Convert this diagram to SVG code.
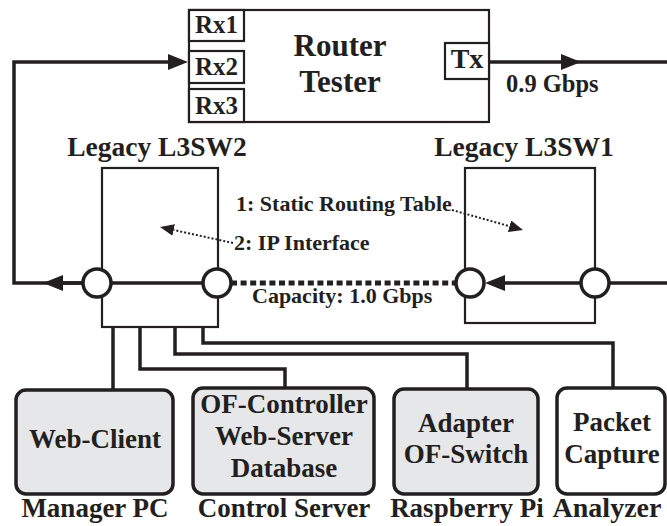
<svg xmlns="http://www.w3.org/2000/svg" width="667" height="526" viewBox="0 0 667 526">
<style>
text{font-family:'Liberation Serif',Tinos,'Times New Roman',Times,'Nimbus Roman','DejaVu Serif',serif;font-weight:700;fill:#231f20}
.box{fill:#fff;stroke:#231f20;stroke-width:2.2}
.gray{fill:#e6e7e8;stroke:#231f20;stroke-width:3.5}
.white{fill:#fff;stroke:#231f20;stroke-width:3.5}
.wire{fill:none;stroke:#231f20;stroke-width:3.5}
.dash{fill:none;stroke:#231f20;stroke-width:5;stroke-dasharray:6 3.6}
.dot{fill:none;stroke:#231f20;stroke-width:2;stroke-dasharray:2 2}
.port{fill:#fff;stroke:#231f20;stroke-width:3.5}
.c{text-anchor:middle}
</style>
<defs>
<marker id="ah" markerUnits="userSpaceOnUse" markerWidth="20" markerHeight="16" refX="0" refY="8" orient="auto">
<path d="M0,0 L20,8 L0,16 z" fill="#231f20"/>
</marker>
<marker id="ahs" markerUnits="userSpaceOnUse" markerWidth="14" markerHeight="12" refX="0" refY="6" orient="auto">
<path d="M0,0 L14,6 L0,12 z" fill="#231f20"/>
</marker>
</defs>

<g id="router-tester">
<rect class="box" x="189" y="10" width="300" height="112"/>
<rect class="box" x="189" y="10" width="55" height="31"/>
<rect class="box" x="189" y="51" width="55" height="32"/>
<rect class="box" x="189" y="89" width="55" height="33"/>
<rect class="box" x="445" y="43" width="44" height="36"/>
<text class="c" x="216.5" y="33" font-size="25">Rx1</text>
<text class="c" x="216.5" y="75" font-size="25">Rx2</text>
<text class="c" x="216.5" y="114" font-size="25">Rx3</text>
<text class="c" x="467" y="68" font-size="28">Tx</text>
<text class="c" x="340" y="56" font-size="31">Router</text>
<text class="c" x="340" y="92" font-size="31">Tester</text>
</g>

<g id="l3sw2">
<text class="c" x="157" y="156" font-size="27.5">Legacy L3SW2</text>
<rect class="box" x="102" y="168" width="116" height="159"/>
</g>

<g id="l3sw1">
<text class="c" x="524" y="156" font-size="27.5">Legacy L3SW1</text>
<rect class="box" x="465" y="168" width="130" height="155"/>
</g>

<g id="connectors">
<line class="wire" x1="489" y1="62" x2="561" y2="62" marker-end="url(#ah)"/>
<line class="wire" x1="575" y1="62" x2="667" y2="62"/>
<path class="wire" d="M83,283 H14 V62 H168" marker-end="url(#ah)"/>
<line class="wire" x1="83" y1="283" x2="63" y2="283" marker-end="url(#ah)"/>
<line class="wire" x1="97" y1="283" x2="217" y2="283"/>
<line class="dash" x1="231" y1="283" x2="456" y2="283"/>
<line class="wire" x1="595" y1="283" x2="667" y2="283"/>
<line class="wire" x1="595" y1="283" x2="505" y2="283" marker-end="url(#ah)"/>
<line class="dot" x1="452" y1="210" x2="509.5" y2="226.2" marker-end="url(#ahs)"/>
<line class="dot" x1="233" y1="243" x2="173.7" y2="230" marker-end="url(#ahs)"/>
<path class="wire" d="M113,327 V390"/>
<path class="wire" d="M140,327 V369 H285 V388"/>
<path class="wire" d="M175,327 V354 H467 V389"/>
<path class="wire" d="M203,327 V343 H613 V388"/>
</g>

<g id="ports">
<circle class="port" cx="97" cy="283" r="14"/>
<circle class="port" cx="217" cy="283" r="14"/>
<circle class="port" cx="470" cy="283" r="14"/>
<circle class="port" cx="595" cy="283" r="14"/>
</g>

<g id="labels">
<text x="506" y="92" font-size="24.5">0.9 Gbps</text>
<text x="236" y="211" font-size="22">1: Static Routing Table</text>
<text x="234" y="250" font-size="22">2: IP Interface</text>
<text x="252" y="303" font-size="22">Capacity: 1.0 Gbps</text>
</g>

<g id="manager-pc">
<rect class="gray" x="16" y="390" width="157" height="104" rx="10"/>
<text class="c" x="95" y="448" font-size="27">Web-Client</text>
<text class="c" x="95" y="517" font-size="27">Manager PC</text>
</g>

<g id="control-server">
<rect class="gray" x="193" y="388" width="181" height="106" rx="10"/>
<text class="c" x="284" y="413" font-size="27">OF-Controller</text>
<text class="c" x="284" y="445" font-size="27">Web-Server</text>
<text class="c" x="284" y="477" font-size="27">Database</text>
<text class="c" x="284" y="517" font-size="27">Control Server</text>
</g>

<g id="raspberry-pi">
<rect class="gray" x="394" y="389" width="144" height="105" rx="10"/>
<text class="c" x="466" y="432" font-size="27">Adapter</text>
<text class="c" x="466" y="463" font-size="27">OF-Switch</text>
<text class="c" x="467" y="517" font-size="27">Raspberry Pi</text>
</g>

<g id="analyzer">
<rect class="white" x="557" y="388" width="108" height="106" rx="10"/>
<text class="c" x="612" y="431" font-size="27">Packet</text>
<text class="c" x="612" y="463" font-size="27">Capture</text>
<text class="c" x="607" y="517" font-size="28">Analyzer</text>
</g>
</svg>
